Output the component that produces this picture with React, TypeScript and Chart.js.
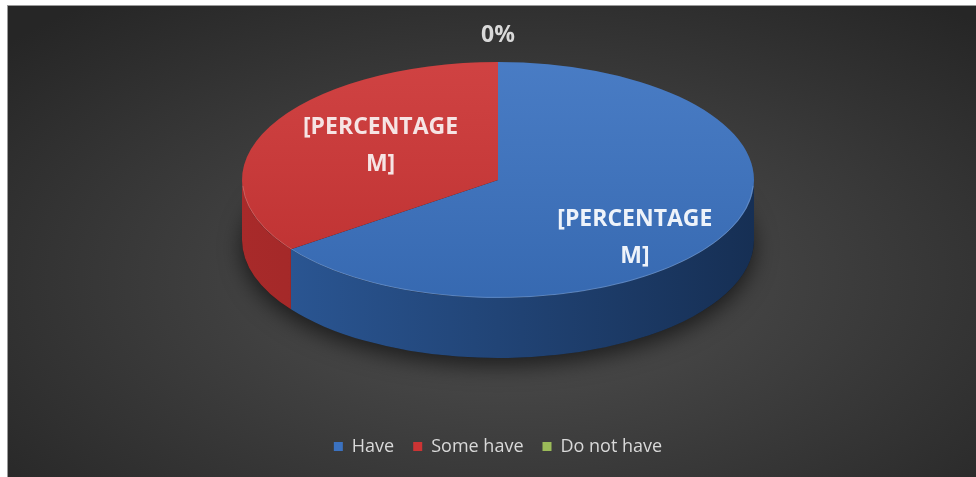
import React, { useEffect, useRef } from "react";
import { Chart, registerables } from "chart.js";

Chart.register(...registerables);

// ---- data ----
const categories = ["Have", "Some have", "Do not have"];
const values = [65, 35, 0];
const dataLabels = [["[PERCENTAGE", "M]"], ["[PERCENTAGE", "M]"], ["0%"]];

// ---- style ----
const topColors = ["#3b72c0", "#cc3434", "#9bbb59"];
const sideColors = [
  ["#2c5998", "#162f54"],
  ["#a82a2a", "#861e1e"],
  ["#7a9644", "#5c7232"],
];
const labelColors = ["#eef3fa", "#f6e4e4", "#d9d9d9"];
const labelRadius = [0.6, 0.55, 1];
const labelShift = [
  [0, 26],
  [8, -5],
  [0, -27],
];
const TILT = 118 / 256;
const DEPTH = 60;
const RADIUS = 256;
const LIFT = 64.5;

const pie3d = {
  id: "pie3d",
  afterLayout(chart: any) {
    chart.chartArea.top -= LIFT;
    chart.chartArea.height += LIFT;
  },
  beforeDatasetsDraw(chart: any) {
    const arcs = chart.getDatasetMeta(0).data as any[];
    if (!arcs.length) return;
    const ctx: CanvasRenderingContext2D = chart.ctx;
    const a0 = arcs[0];
    const cx = a0.x, cy = a0.y, rx = a0.outerRadius, ry = rx * TILT;

    // soft shadow
    ctx.save();
    ctx.shadowColor = "rgba(0,0,0,0.6)";
    ctx.shadowBlur = 22;
    ctx.shadowOffsetY = 8;
    ctx.beginPath();
    ctx.ellipse(cx, cy + DEPTH, rx, ry, 0, 0, Math.PI * 2);
    ctx.fillStyle = "#1c1c1c";
    ctx.fill();
    ctx.restore();

    // front sides
    arcs.forEach((el: any, i: number) => {
      const s = el.startAngle, e = el.endAngle;
      for (const base of [-2 * Math.PI, 0, 2 * Math.PI]) {
        const lo = Math.max(s, base), hi = Math.min(e, base + Math.PI);
        if (hi - lo > 1e-4) {
          ctx.save();
          ctx.beginPath();
          ctx.ellipse(cx, cy, rx, ry, 0, lo, hi);
          ctx.ellipse(cx, cy + DEPTH, rx, ry, 0, hi, lo, true);
          ctx.closePath();
          const g = ctx.createLinearGradient(cx - rx, 0, cx + rx, 0);
          g.addColorStop(0, sideColors[i][0]);
          g.addColorStop(1, sideColors[i][1]);
          ctx.fillStyle = g;
          ctx.fill();
          ctx.restore();
        }
      }
    });

    ctx.save();
    ctx.translate(cx, cy);
    ctx.scale(1, TILT);
    ctx.translate(-cx, -cy);
  },
  afterDatasetsDraw(chart: any) {
    const arcs = chart.getDatasetMeta(0).data as any[];
    if (!arcs.length) return;
    const ctx: CanvasRenderingContext2D = chart.ctx;
    const a0 = arcs[0];
    const cx = a0.x, cy = a0.y, rx = a0.outerRadius, ry = rx * TILT;
    // shading overlay on top face (still in scaled space)
    ctx.beginPath();
    ctx.arc(cx, cy, rx, 0, Math.PI * 2);
    const g = ctx.createLinearGradient(0, cy - rx, 0, cy + rx);
    g.addColorStop(0, "rgba(255,255,255,0.07)");
    g.addColorStop(1, "rgba(0,0,0,0.08)");
    ctx.fillStyle = g;
    ctx.fill();
    ctx.restore();

    // rim highlight
    ctx.save();
    ctx.beginPath();
    ctx.ellipse(cx, cy, rx - 0.5, ry - 0.5, 0, 0.05, Math.PI - 0.05);
    ctx.strokeStyle = "rgba(255,255,255,0.18)";
    ctx.lineWidth = 1;
    ctx.stroke();
    ctx.restore();

    // labels
    ctx.save();
    ctx.textAlign = "center";
    ctx.textBaseline = "middle";
    ctx.font = 'bold 23px "Open Sans"';
    arcs.forEach((el: any, i: number) => {
      const v = values[i];
      const m = v > 0 ? (el.startAngle + el.endAngle) / 2 : el.startAngle;
      const f = labelRadius[i];
      const x = cx + f * rx * Math.cos(m) + labelShift[i][0];
      const y = cy + f * ry * Math.sin(m) + labelShift[i][1];
      const lines = dataLabels[i];
      const lh = 37;
      ctx.fillStyle = labelColors[i];
      lines.forEach((t, k) => {
        ctx.fillText(t, x, y + (k - (lines.length - 1) / 2) * lh);
      });
    });
    ctx.restore();
  },
};

export default function App() {
  const ref = useRef<HTMLCanvasElement | null>(null);
  useEffect(() => {
    if (!ref.current) return;
    const chart = new Chart(ref.current, {
      type: "pie",
      data: {
        labels: categories,
        datasets: [
          {
            data: values,
            backgroundColor: topColors,
            borderWidth: 0,
            radius: RADIUS,
          } as any,
        ],
      },
      options: {
        responsive: false,
        animation: false,
        events: [],
        layout: { padding: { top: 0, bottom: 11.5, left: 12, right: 0 } },
        plugins: {
          tooltip: { enabled: false },
          legend: {
            position: "bottom",
            labels: {
              boxWidth: 9,
              boxHeight: 9,
              padding: 19,
              color: "#d9d9d9",
              font: { family: "Open Sans", size: 18 },
            },
          },
        },
      },
      plugins: [pie3d],
    });
    return () => chart.destroy();
  }, []);
  return (
    <div
      style={{
        position: "absolute",
        left: 7,
        top: 5,
        width: 969,
        height: 472,
        borderTop: "1px solid #9a9a9a",
        borderLeft: "1px solid #9a9a9a",
        background:
          "radial-gradient(ellipse 70% 75% at 52% 58%, #525252 0%, #3c3c3c 50%, #262626 100%)",
      }}
    >
      <canvas ref={ref} width={968} height={471} style={{ display: "block" }} />
    </div>
  );
}
